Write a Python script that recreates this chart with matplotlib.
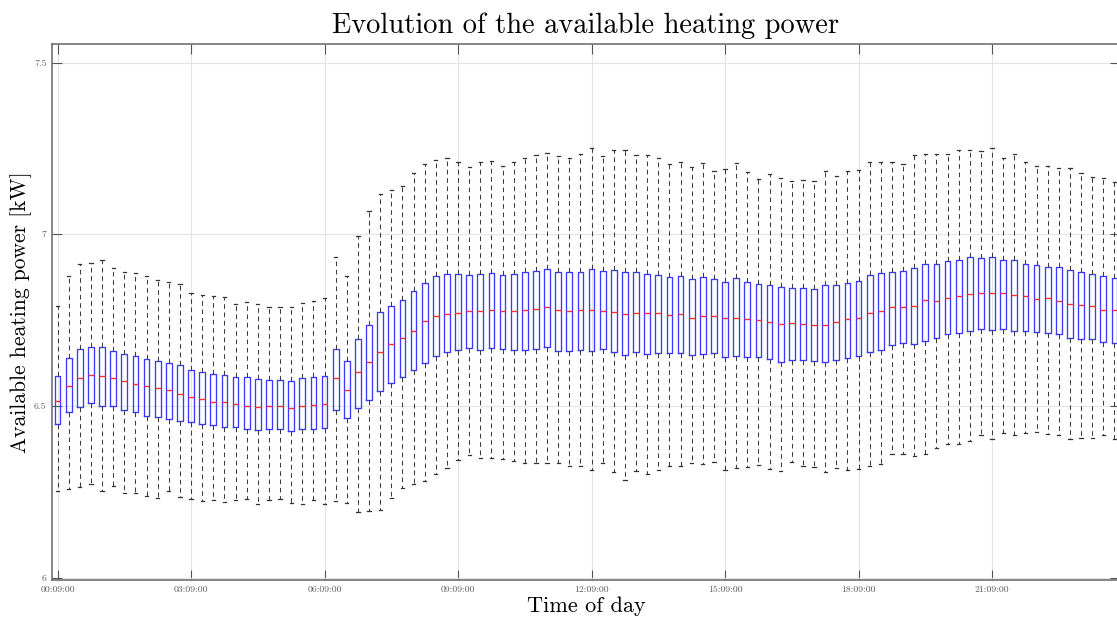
import matplotlib
matplotlib.use("Agg")
import matplotlib.pyplot as plt

# ---------------- data (kW), one box every 15 min starting 00:09:00 ----------------
tick_labels = ["00:09:00", "03:09:00", "06:09:00", "09:09:00",
               "12:09:00", "15:09:00", "18:09:00", "21:09:00"]
ytick_values = [6.0, 6.5, 7.0, 7.5]
ytick_labels = ["6", "6.5", "7", "7.5"]

whisker_high = [6.792, 6.877, 6.913, 6.916, 6.924, 6.903, 6.891, 6.887, 6.879, 6.867,
                6.861, 6.856, 6.828, 6.823, 6.821, 6.817, 6.797, 6.802, 6.797, 6.787,
                6.787, 6.787, 6.801, 6.806, 6.813, 6.935, 6.877, 6.995, 7.068, 7.117,
                7.129, 7.139, 7.178, 7.204, 7.217, 7.222, 7.210, 7.197, 7.210, 7.213,
                7.200, 7.209, 7.222, 7.231, 7.236, 7.229, 7.222, 7.233, 7.251, 7.229,
                7.246, 7.246, 7.231, 7.231, 7.222, 7.205, 7.210, 7.197, 7.206, 7.185,
                7.190, 7.207, 7.181, 7.160, 7.175, 7.165, 7.154, 7.157, 7.154, 7.184,
                7.170, 7.185, 7.187, 7.210, 7.211, 7.211, 7.205, 7.231, 7.235, 7.235,
                7.235, 7.246, 7.244, 7.241, 7.251, 7.222, 7.233, 7.210, 7.199, 7.199,
                7.192, 7.192, 7.178, 7.168, 7.163, 7.152]
upper_quartile = [6.586, 6.639, 6.665, 6.671, 6.671, 6.661, 6.652, 6.646, 6.636, 6.630,
                  6.624, 6.618, 6.605, 6.598, 6.593, 6.591, 6.583, 6.583, 6.578, 6.576,
                  6.576, 6.574, 6.582, 6.583, 6.587, 6.667, 6.630, 6.695, 6.737, 6.774,
                  6.792, 6.809, 6.834, 6.859, 6.877, 6.885, 6.883, 6.880, 6.885, 6.888,
                  6.882, 6.885, 6.889, 6.894, 6.898, 6.889, 6.889, 6.891, 6.898, 6.892,
                  6.895, 6.889, 6.890, 6.885, 6.882, 6.876, 6.879, 6.869, 6.874, 6.869,
                  6.862, 6.872, 6.860, 6.855, 6.852, 6.845, 6.843, 6.844, 6.841, 6.851,
                  6.851, 6.859, 6.865, 6.880, 6.887, 6.891, 6.894, 6.902, 6.913, 6.913,
                  6.922, 6.924, 6.933, 6.932, 6.933, 6.925, 6.925, 6.914, 6.910, 6.906,
                  6.904, 6.897, 6.890, 6.884, 6.878, 6.872]
median = [6.513, 6.558, 6.582, 6.590, 6.586, 6.580, 6.573, 6.563, 6.557, 6.551,
          6.545, 6.535, 6.525, 6.520, 6.510, 6.510, 6.506, 6.501, 6.498, 6.500,
          6.501, 6.493, 6.500, 6.503, 6.506, 6.580, 6.545, 6.598, 6.628, 6.656,
          6.681, 6.698, 6.718, 6.748, 6.762, 6.768, 6.772, 6.775, 6.775, 6.780,
          6.775, 6.775, 6.778, 6.782, 6.788, 6.780, 6.775, 6.778, 6.778, 6.777,
          6.774, 6.768, 6.772, 6.771, 6.770, 6.764, 6.767, 6.756, 6.762, 6.762,
          6.755, 6.756, 6.752, 6.750, 6.743, 6.738, 6.741, 6.740, 6.736, 6.736,
          6.744, 6.752, 6.757, 6.771, 6.775, 6.787, 6.787, 6.792, 6.808, 6.806,
          6.815, 6.819, 6.826, 6.828, 6.828, 6.828, 6.824, 6.819, 6.810, 6.813,
          6.805, 6.796, 6.793, 6.790, 6.780, 6.780]
lower_quartile = [6.448, 6.481, 6.498, 6.508, 6.501, 6.499, 6.489, 6.482, 6.472, 6.468,
                  6.462, 6.457, 6.452, 6.447, 6.443, 6.440, 6.440, 6.434, 6.430, 6.433,
                  6.433, 6.428, 6.433, 6.434, 6.437, 6.488, 6.464, 6.493, 6.516, 6.542,
                  6.566, 6.583, 6.605, 6.624, 6.644, 6.658, 6.663, 6.670, 6.663, 6.670,
                  6.666, 6.663, 6.663, 6.666, 6.671, 6.660, 6.660, 6.663, 6.660, 6.666,
                  6.658, 6.647, 6.657, 6.651, 6.654, 6.654, 6.654, 6.648, 6.650, 6.654,
                  6.642, 6.644, 6.642, 6.642, 6.636, 6.629, 6.634, 6.634, 6.632, 6.627,
                  6.634, 6.639, 6.644, 6.657, 6.663, 6.678, 6.682, 6.681, 6.690, 6.698,
                  6.708, 6.712, 6.717, 6.724, 6.720, 6.724, 6.718, 6.717, 6.715, 6.711,
                  6.709, 6.699, 6.695, 6.694, 6.687, 6.683]
whisker_low = [6.251, 6.258, 6.263, 6.273, 6.253, 6.267, 6.246, 6.246, 6.238, 6.233,
               6.251, 6.236, 6.228, 6.224, 6.226, 6.219, 6.226, 6.228, 6.215, 6.226,
               6.228, 6.217, 6.215, 6.226, 6.213, 6.222, 6.217, 6.192, 6.194, 6.197,
               6.233, 6.260, 6.273, 6.280, 6.301, 6.319, 6.343, 6.357, 6.348, 6.348,
               6.345, 6.340, 6.335, 6.333, 6.335, 6.335, 6.326, 6.326, 6.312, 6.335,
               6.307, 6.285, 6.311, 6.302, 6.314, 6.326, 6.326, 6.333, 6.330, 6.336,
               6.314, 6.319, 6.321, 6.328, 6.317, 6.309, 6.336, 6.326, 6.321, 6.307,
               6.319, 6.314, 6.317, 6.326, 6.331, 6.360, 6.361, 6.355, 6.359, 6.377,
               6.390, 6.389, 6.399, 6.415, 6.404, 6.421, 6.414, 6.421, 6.423, 6.418,
               6.414, 6.403, 6.408, 6.408, 6.414, 6.404]

# ---------------- figure ----------------
plt.rcParams['font.family'] = ['cmr10', 'DejaVu Serif']
plt.rcParams['axes.formatter.use_mathtext'] = True

W, H = 1117, 620
fig = plt.figure(figsize=(W / 100, H / 100), dpi=100)
ax = fig.add_axes([52 / W, 40 / H, 1068 / W, 536 / H])

stats = []
for lo, a, m, b, hi in zip(whisker_low, lower_quartile, median, upper_quartile, whisker_high):
    stats.append(dict(whislo=lo, q1=a, med=m, q3=b, whishi=hi, fliers=[]))

n = len(stats)
positions = list(range(1, n + 1))
ax.bxp(stats, positions=positions, widths=0.52, capwidths=0.3, showfliers=False,
       boxprops=dict(color='#3a3aff', linewidth=0.95),
       medianprops=dict(color='#ff3030', linewidth=1.0),
       whiskerprops=dict(color='#3c3c3c', linewidth=0.75, linestyle=(0, (4.5, 3.5))),
       capprops=dict(color='#333333', linewidth=0.9))

ax.set_xlim(0.5, n + 0.5)
ax.set_ylim(5.993, 7.554)
ax.set_xticks([1 + 12 * k for k in range(len(tick_labels))])
ax.set_xticklabels(tick_labels)
ax.set_yticks(ytick_values)
ax.set_yticklabels(ytick_labels)

ax.grid(True, color='#e4e4e4', linewidth=0.8)
ax.set_axisbelow(True)
ax.tick_params(direction='in', length=7.5, width=0.8, top=True, right=True,
               labelsize=7, labelcolor='#5a5a5a', color='#555555', pad=4)
for s in ax.spines.values():
    s.set_color('#666666')
    s.set_linewidth(1.1)

ax.set_title('Evolution of the available heating power', fontsize=20.5, pad=8)
ax.set_xlabel('Time of day', fontsize=16)
ax.set_ylabel('Available heating power [kW]', fontsize=15.5)
ax.xaxis.set_label_coords(0.5, -0.031)
ax.xaxis.label.set_va('top')
ax.yaxis.set_label_coords(-0.019, 0.5)

fig.savefig('out.png', dpi=100)
